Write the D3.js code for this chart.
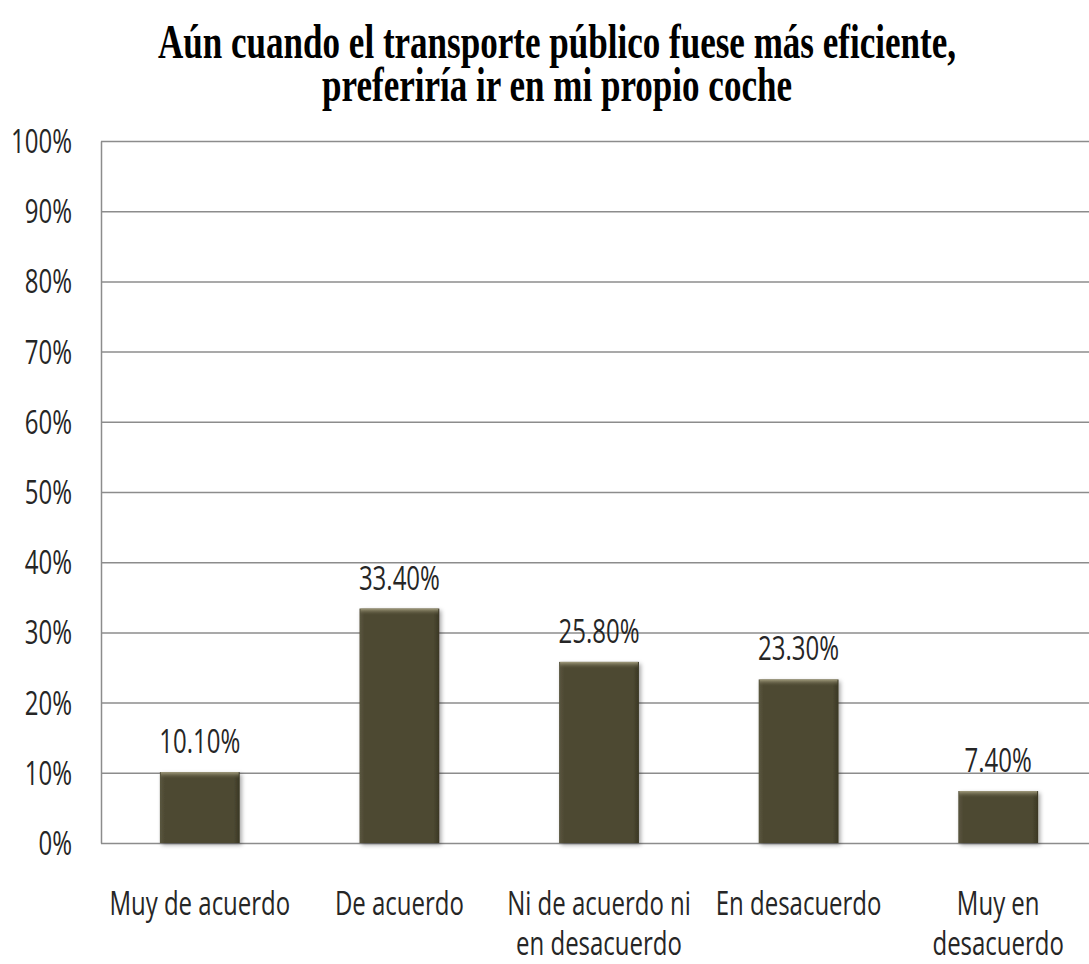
<!DOCTYPE html>
<html lang="es">
  <head>
    <meta charset="UTF-8" />
    <title>Transporte público</title>
    <style>
      body { margin: 0; background: #fff; }
      svg { display: block; }
      .grid line { stroke: #8c8c8c; stroke-width: 1.5; }
      .grid path { stroke: #8c8c8c; stroke-width: 1.5; }
      .label { font-family: "Open Sans", sans-serif; font-size: 32px; fill: #262626; }
      .title { font-family: "Liberation Serif", "Times New Roman", serif; font-weight: bold; font-size: 48px; fill: #000; }
    </style>
  </head>
  <body>
    <script src="https://cdn.jsdelivr.net/npm/d3@7"></script>
    <script>

    // chart data
    var titleLines = ["Aún cuando el transporte público fuese más eficiente,",
                      "preferiría ir en mi propio coche"];
    var categories = ["Muy de acuerdo", "De acuerdo", "Ni de acuerdo ni en desacuerdo",
                      "En desacuerdo", "Muy en desacuerdo"];
    var categoryLines = [["Muy de acuerdo"], ["De acuerdo"], ["Ni de acuerdo ni", "en desacuerdo"],
                         ["En desacuerdo"], ["Muy en", "desacuerdo"]];
    var values = [10.1, 33.4, 25.8, 23.3, 7.4];
    var yTicks = [0, 10, 20, 30, 40, 50, 60, 70, 80, 90, 100];

    var w = 1089, h = 964;
    var margin = { top: 141, left: 101, bottom: 843, right: 1098 };
    var squeeze = 0.75; // narrow the sans font to look like Calibri

    var svg = d3.select("body").append("svg")
        .attr("width", w)
        .attr("height", h);

    // bar gradients
    var defs = svg.append("defs");
    var side = defs.append("linearGradient").attr("id", "side")
        .attr("x1", "0").attr("x2", "1").attr("y1", "0").attr("y2", "0");
    side.append("stop").attr("offset", "0").attr("stop-color", "#5a5640");
    side.append("stop").attr("offset", "0.06").attr("stop-color", "#4e4a33");
    side.append("stop").attr("offset", "0.92").attr("stop-color", "#4e4a33");
    side.append("stop").attr("offset", "1").attr("stop-color", "#3a3724");
    var topG = defs.append("linearGradient").attr("id", "topg")
        .attr("x1", "0").attr("x2", "0").attr("y1", "0").attr("y2", "1");
    topG.append("stop").attr("offset", "0").attr("stop-color", "#a39d7e");
    topG.append("stop").attr("offset", "1").attr("stop-color", "#4e4a33").attr("stop-opacity", 0);
    var shadow = defs.append("filter").attr("id", "shadow")
        .attr("x", "-20%").attr("y", "-20%").attr("width", "140%").attr("height", "140%");
    shadow.append("feDropShadow").attr("dx", 2).attr("dy", 2).attr("stdDeviation", 2)
        .attr("flood-color", "#000").attr("flood-opacity", 0.35);

    // scales
    var xScale = d3.scaleBand()
        .domain(categories)
        .range([100, margin.right])
        .paddingInner(0.6)
        .paddingOuter(0.3);

    var yScale = d3.scaleLinear()
        .domain([0, 100])
        .range([margin.bottom, margin.top]);

    // title
    svg.selectAll(".title")
        .data(titleLines)
        .enter().append("text")
        .attr("class", "title")
        .attr("text-anchor", "middle")
        .attr("transform", function(d, i) {
            return "translate(557," + (58 + i * 43) + ") scale(0.73,1)";
        })
        .text(function(d) { return d; });

    // gridlines and y axis
    var yAxis = d3.axisLeft(yScale)
        .tickValues(yTicks)
        .tickSize(-(margin.right - margin.left))
        .tickSizeOuter(0)
        .tickFormat(function(d) { return d + "%"; });

    var gy = svg.append("g")
        .attr("class", "grid")
        .attr("transform", "translate(" + margin.left + ",0)")
        .call(yAxis);

    gy.selectAll("text")
        .attr("class", "label")
        .attr("x", 0)
        .attr("dy", "0.36em")
        .attr("text-anchor", "end")
        .attr("transform", "translate(-29,0) scale(" + squeeze + ",1)");

    // bars
    var bars = svg.append("g").selectAll("g")
        .data(values)
        .enter().append("g");

    bars.append("rect")
        .attr("x", function(d, i) { return xScale(categories[i]); })
        .attr("y", function(d) { return yScale(d); })
        .attr("width", xScale.bandwidth())
        .attr("height", function(d) { return margin.bottom - yScale(d); })
        .attr("fill", "url(#side)")
        .attr("filter", "url(#shadow)");

    bars.append("rect")
        .attr("x", function(d, i) { return xScale(categories[i]) + 1; })
        .attr("y", function(d) { return yScale(d); })
        .attr("width", xScale.bandwidth() - 2)
        .attr("height", 7)
        .attr("fill", "url(#topg)");

    // value labels
    bars.append("text")
        .attr("class", "label")
        .attr("text-anchor", "middle")
        .attr("transform", function(d, i) {
            var cx = xScale(categories[i]) + xScale.bandwidth() / 2;
            return "translate(" + cx + "," + (yScale(d) - 19) + ") scale(" + squeeze + ",1)";
        })
        .text(function(d) { return d.toFixed(2) + "%"; });

    // category labels
    var cats = svg.append("g").selectAll("text")
        .data(categoryLines)
        .enter().append("text")
        .attr("class", "label")
        .attr("text-anchor", "middle")
        .attr("transform", function(d, i) {
            var cx = xScale(categories[i]) + xScale.bandwidth() / 2;
            return "translate(" + cx + ",915) scale(" + squeeze + ",1)";
        });

    cats.selectAll("tspan")
        .data(function(d) { return d; })
        .enter().append("tspan")
        .attr("x", 0)
        .attr("y", function(d, i) { return i * 40; })
        .text(function(d) { return d; });

    </script>
  </body>
</html>
